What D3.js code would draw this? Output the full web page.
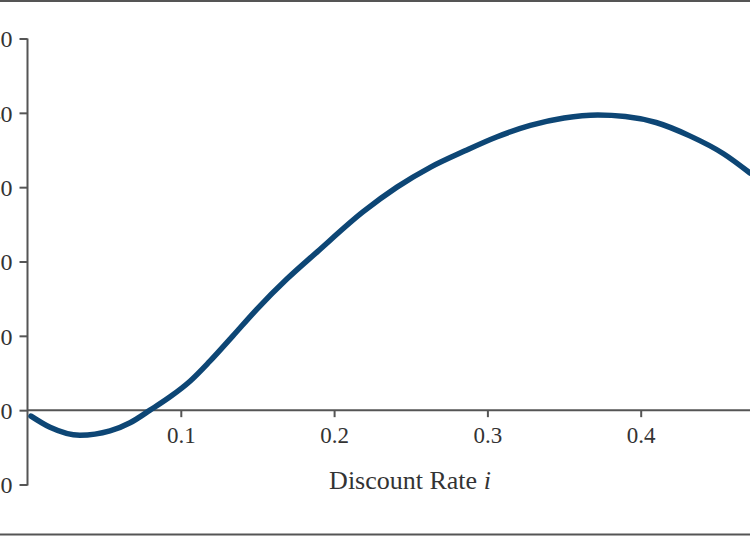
<!DOCTYPE html>
<html><head><meta charset="utf-8">
<script src="https://cdn.jsdelivr.net/npm/d3@7"></script>
<style>html,body{margin:0;padding:0;background:#fff;overflow:hidden}</style>
</head><body>
<svg id="c" width="750" height="536"></svg>
<script>
const rates = [0.0023, 0.0147, 0.0342, 0.0538, 0.0669, 0.0799, 0.093, 0.106, 0.119, 0.134, 0.1497, 0.169, 0.189, 0.219, 0.241, 0.263, 0.285, 0.306, 0.328, 0.35, 0.372, 0.39, 0.41, 0.432, 0.454, 0.4713];
const npv   = [-0.8, -2.3, -3.38, -2.8, -1.7, 0, 1.8, 3.9, 6.6, 10.0, 13.6, 17.6, 21.3, 26.7, 30.0, 32.7, 34.85, 36.75, 38.3, 39.3, 39.7, 39.5, 38.7, 36.9, 34.5, 31.9];
const xTicks = [0.1, 0.2, 0.3, 0.4];
const yTicks = [-10, 0, 10, 20, 30, 40, 50];
const xTitle = "Discount Rate ";
const xTitleVar = "i";

const svg = d3.select("#c");
const font = "'Liberation Serif', 'DejaVu Serif', serif";
const axisColor = "#555";

const x = d3.scaleLinear().domain([0, 0.1]).range([27.5, 180.8]);
const y = d3.scaleLinear().domain([-10, 50]).range([484.5, 38.5]);

// frame lines
svg.append("line").attr("x1",0).attr("x2",750).attr("y1",1).attr("y2",1)
  .attr("stroke",axisColor).attr("stroke-width",2);
svg.append("line").attr("x1",0).attr("x2",750).attr("y1",534.5).attr("y2",534.5)
  .attr("stroke",axisColor).attr("stroke-width",2);

// y axis
const ya = svg.append("g").attr("transform","translate(27.5,0)")
  .call(d3.axisLeft(y).tickValues(yTicks).tickSize(8).tickPadding(7)
    .tickFormat(d => d < 0 ? "\u2212" + Math.abs(d) : String(d)));
ya.select(".domain").attr("stroke",axisColor).attr("stroke-width",2)
  .attr("d", `M0,${y(50)}V${y(-10)+1}`);
ya.selectAll(".tick line").attr("stroke",axisColor).attr("stroke-width",2);
ya.selectAll(".tick text").attr("font-family",font).attr("font-size",24).attr("fill","#333")
  .attr("dy","0.34em");

// x axis at zero
const xa = svg.append("g").attr("transform",`translate(0,${y(0)})`)
  .call(d3.axisBottom(x).tickValues(xTicks).tickSize(7).tickPadding(10).tickFormat(d3.format(".1f")));
xa.select(".domain").attr("stroke",axisColor).attr("stroke-width",2)
  .attr("d", `M${x(0)},0H760`);
xa.selectAll(".tick line").attr("stroke",axisColor).attr("stroke-width",2);
xa.selectAll(".tick text").attr("font-family",font).attr("font-size",23).attr("fill","#333");

// x title
const t = svg.append("text").attr("x",410).attr("y",489).attr("text-anchor","middle")
  .attr("font-family",font).attr("font-size",26).attr("fill","#333");
t.append("tspan").text(xTitle);
t.append("tspan").attr("font-style","italic").text(xTitleVar);

// curve
const data = rates.map((r,i)=>({r, v: npv[i]}));
svg.append("path").datum(data)
  .attr("fill","none").attr("stroke","#0d4675").attr("stroke-width",5.5)
  .attr("stroke-linecap","round")
  .attr("d", d3.line().x(d=>x(d.r)).y(d=>y(d.v)).curve(d3.curveMonotoneX));
</script>
</body></html>
